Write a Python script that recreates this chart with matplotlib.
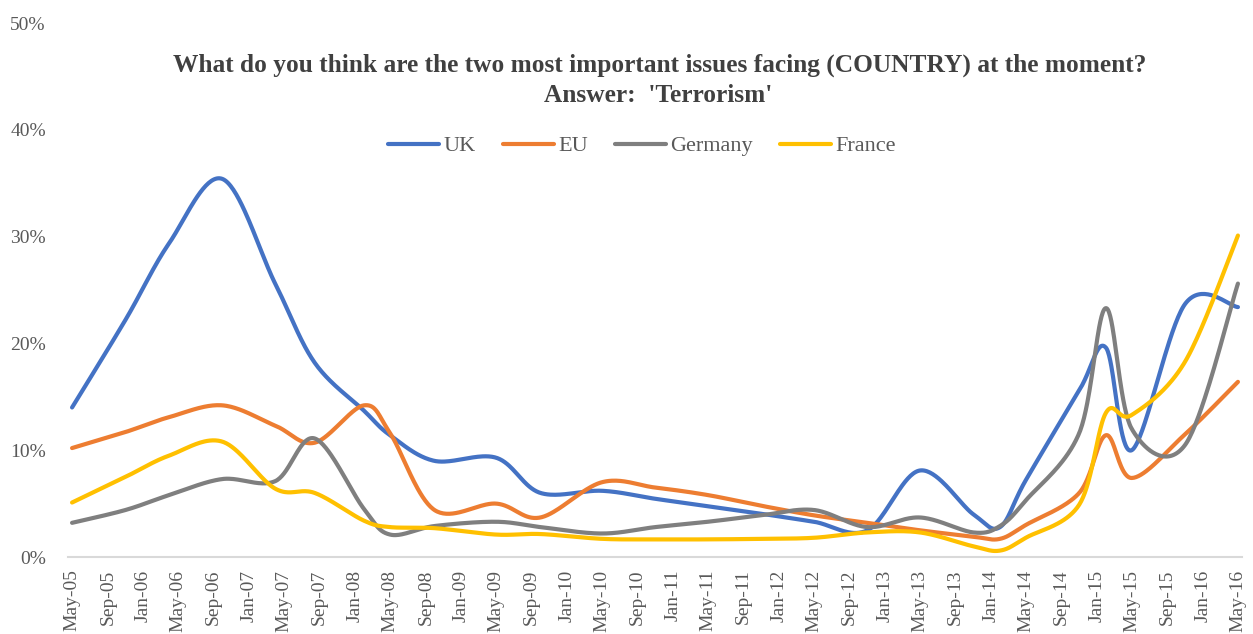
import numpy as np
import pandas as pd
import matplotlib
matplotlib.use("Agg")
import matplotlib.pyplot as plt
import matplotlib.dates as mdates
from matplotlib.ticker import PercentFormatter

# survey dates and shares (%)
dates = ["2005-05-01", "2005-11-01", "2006-04-01", "2006-10-01", "2007-04-01",
         "2007-08-15", "2008-02-01", "2008-05-01", "2008-10-01", "2009-05-01",
         "2009-10-01", "2010-05-01", "2010-11-01", "2011-05-01", "2011-11-01",
         "2012-05-01", "2012-11-01", "2013-05-01", "2013-11-01", "2014-02-01",
         "2014-05-01", "2014-11-01", "2015-02-01", "2015-05-01", "2015-11-01",
         "2016-05-01"]
uk = [14.0, 22.2, 29.4, 35.4, 25.6, 18.2, 13.7, 11.4, 9.0, 9.3, 6.0, 6.2, 5.45,
      4.75, 4.05, 3.3, 2.5, 8.1, 4.0, 2.8, 7.2, 15.6, 19.6, 10.0, 23.7, 23.4]
eu = [10.2, 11.7, 13.1, 14.2, 12.3, 10.7, 14.2, 11.6, 4.4, 5.0, 3.7, 7.0, 6.5,
      5.8, 4.8, 3.9, 3.2, 2.5, 1.9, 1.7, 3.0, 6.0, 11.4, 7.4, 11.5, 16.4]
germany = [3.2, 4.4, 5.8, 7.3, 7.1, 11.1, 4.5, 2.1, 2.9, 3.3, 2.8, 2.2, 2.8,
           3.3, 3.9, 4.4, 2.8, 3.7, 2.3, 2.9, 5.3, 11.6, 23.3, 12.0, 10.5, 25.6]
france = [5.1, 7.5, 9.5, 10.8, 6.4, 6.0, 3.4, 2.8, 2.7, 2.1, 2.15, 1.7, 1.65,
          1.65, 1.7, 1.8, 2.3, 2.3, 1.0, 0.6, 1.8, 4.9, 13.5, 13.3, 18.3, 30.1]

series = [("UK", uk, "#4472C4"), ("EU", eu, "#ED7D31"),
          ("Germany", germany, "#7F7F7F"), ("France", france, "#FFC000")]


def excel_smooth(x, y, n=40):
    # bezier smoothing like excel's "smoothed line"
    pts = np.column_stack([x, y])
    P = np.vstack([pts[0], pts, pts[-1]])
    t = np.linspace(0, 1, n)[:, None]
    out = []
    for i in range(1, len(P) - 2):
        p0, p1, p2, p3 = P[i - 1], P[i], P[i + 1], P[i + 2]
        c1 = p1 + (p2 - p0) / 6
        c2 = p2 - (p3 - p1) / 6
        seg = (1 - t) ** 3 * p1 + 3 * (1 - t) ** 2 * t * c1 + 3 * (1 - t) * t ** 2 * c2 + t ** 3 * p2
        out.append(seg if i == 1 else seg[1:])
    out = np.vstack(out)
    return out[:, 0], out[:, 1]


def main():
    plt.rcParams['font.family'] = ['Liberation Serif', 'DejaVu Serif']
    fig = plt.figure(figsize=(12.53, 6.34), dpi=100)
    W, H = 1253, 634
    ax = fig.add_axes([68 / W, (H - 557) / H, (1242 - 68) / W, (557 - 23) / H])

    x = mdates.date2num(pd.to_datetime(dates))
    for name, vals, col in series:
        xs, ys = excel_smooth(x, np.array(vals))
        ax.plot(xs, ys, color=col, lw=3, label=name, solid_capstyle='round')

    pad = 14
    ax.set_xlim(x[0] - pad, x[-1] + pad)
    ax.set_ylim(0, 50)
    ax.set_yticks(np.arange(0, 51, 10))
    ax.yaxis.set_major_formatter(PercentFormatter(decimals=0))

    ticks = pd.date_range("2005-05-01", "2016-05-01", freq="4MS")
    ax.set_xticks(mdates.date2num(ticks))
    ax.xaxis.set_major_formatter(mdates.DateFormatter('%b-%y'))
    ax.tick_params(axis='x', rotation=90, length=0, pad=9, labelsize=14, colors='#595959')
    ax.tick_params(axis='y', length=0, pad=16, labelsize=14, colors='#595959')

    for s in ['top', 'right', 'left']:
        ax.spines[s].set_visible(False)
    ax.spines['bottom'].set_color('#D9D9D9')
    ax.spines['bottom'].set_linewidth(1.5)

    fig.text(660 / W, 1 - 72 / H,
             "What do you think are the two most important issues facing (COUNTRY) at the moment?",
             ha='center', va='baseline', fontsize=18.25, fontweight='bold', color='#404040')
    fig.text(658 / W, 1 - 102 / H, "Answer:  'Terrorism'",
             ha='center', va='baseline', fontsize=18.25, fontweight='bold', color='#404040')

    leg = fig.legend(loc='center', bbox_to_anchor=(642 / W, 1 - 146 / H), ncol=4,
                     frameon=False, fontsize=16, handlelength=2.3, handletextpad=0.2,
                     columnspacing=1.2)
    for t in leg.get_texts():
        t.set_color('#595959')

    fig.savefig("out.png", dpi=100)


if __name__ == '__main__':
    main()
